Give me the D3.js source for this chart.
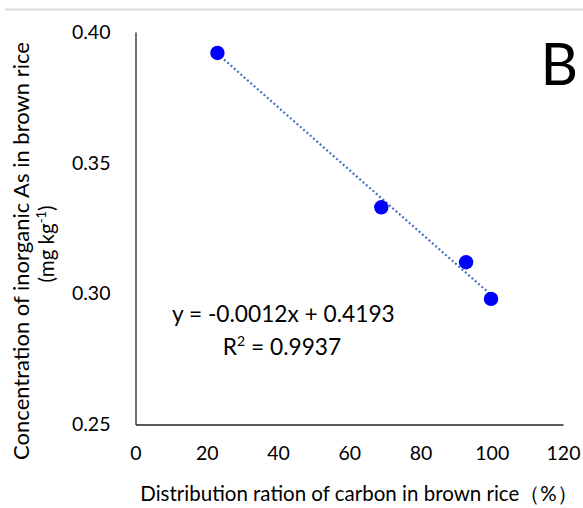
<!DOCTYPE html>
<html>
<head>
<meta charset="utf-8">
<script src="https://cdn.jsdelivr.net/npm/d3@7"></script>
<style>
  body { margin: 0; background: #fff; }
  text { font-family: Lato, "Open Sans", sans-serif; fill: #000; }
</style>
</head>
<body>
<script>
// data
const carbonRatio = [23.0, 69.0, 92.8, 99.8];
const inorganicAs = [0.392, 0.333, 0.312, 0.298];
const xTicks = [0, 20, 40, 60, 80, 100, 120];
const yTicks = [0.25, 0.30, 0.35, 0.40];
const fitSlope = -0.0012;
const fitIntercept = 0.4193;
const fitR2 = 0.9937;

const w = 583;
const h = 508;

const svg = d3.select("body").append("svg")
  .attr("width", w)
  .attr("height", h);

// light rule at the top
svg.append("line")
  .attr("x1", 5).attr("x2", w)
  .attr("y1", 9.5).attr("y2", 9.5)
  .attr("stroke", "#d9d9d9")
  .attr("stroke-width", 2);

const x = d3.scaleLinear().domain([0, 120]).range([135.5, 563]);
const y = d3.scaleLinear().domain([0.25, 0.40]).range([424.5, 32]);

// axes (no tick marks, like the original)
const xAxis = svg.append("g")
  .attr("transform", `translate(0, ${y(0.25)})`)
  .call(d3.axisBottom(x).tickValues(xTicks).tickSize(0).tickPadding(22).tickFormat(d3.format("d")));
const yAxis = svg.append("g")
  .attr("transform", `translate(${x(0)}, 0)`)
  .call(d3.axisLeft(y).tickValues(yTicks).tickSize(0).tickPadding(25).tickFormat(d3.format(".2f")));

[xAxis, yAxis].forEach((g) => {
  g.select(".domain").attr("stroke", "#222").attr("stroke-width", 1.3);
  g.selectAll("text").attr("font-size", 19.5).attr("font-family", "Lato, sans-serif").attr("fill", "#000");
});

// trendline over the data range
const xMin = d3.min(carbonRatio);
const xMax = d3.max(carbonRatio);
svg.append("line")
  .attr("x1", x(xMin)).attr("y1", y(fitSlope * xMin + fitIntercept))
  .attr("x2", x(xMax)).attr("y2", y(fitSlope * xMax + fitIntercept))
  .attr("stroke", "#4472c4")
  .attr("stroke-width", 2.2)
  .attr("stroke-dasharray", "2,2.4");

// points
svg.selectAll("circle")
  .data(carbonRatio)
  .enter()
  .append("circle")
  .attr("cx", (d) => x(d))
  .attr("cy", (d, i) => y(inorganicAs[i]))
  .attr("r", 7.2)
  .attr("fill", "#0000ff");

// equation
svg.append("text")
  .attr("x", 172).attr("y", 322)
  .attr("font-size", 22.7)
  .text(`y = ${fitSlope.toFixed(4)}x + ${fitIntercept.toFixed(4)}`);
const r2 = svg.append("text")
  .attr("x", 282).attr("y", 355)
  .attr("text-anchor", "middle")
  .attr("font-size", 22.7);
r2.append("tspan").text("R");
r2.append("tspan").attr("font-size", 14).attr("dy", -9).text("2");
r2.append("tspan").attr("dy", 9).text(` = ${fitR2.toFixed(4)}`);

// panel letter
svg.append("text")
  .attr("x", 578).attr("y", 85)
  .attr("text-anchor", "end")
  .attr("font-size", 58)
  .text("B");

// axis titles
svg.append("text")
  .attr("x", 359).attr("y", 501)
  .attr("text-anchor", "middle")
  .attr("font-size", 20.5)
  .text("Distribution ration of carbon in brown rice（%）");

svg.append("text")
  .attr("transform", "translate(29, 251) rotate(-90)")
  .attr("text-anchor", "middle")
  .attr("font-size", 22)
  .text("Concentration of inorganic As in brown rice");

const yt2 = svg.append("text")
  .attr("transform", "translate(54, 244) rotate(-90)")
  .attr("text-anchor", "middle")
  .attr("font-size", 20.5);
yt2.append("tspan").text("(mg kg");
yt2.append("tspan").attr("font-size", 13).attr("dy", -8).text("-1");
yt2.append("tspan").attr("dy", 8).text(")");
</script>
</body>
</html>
